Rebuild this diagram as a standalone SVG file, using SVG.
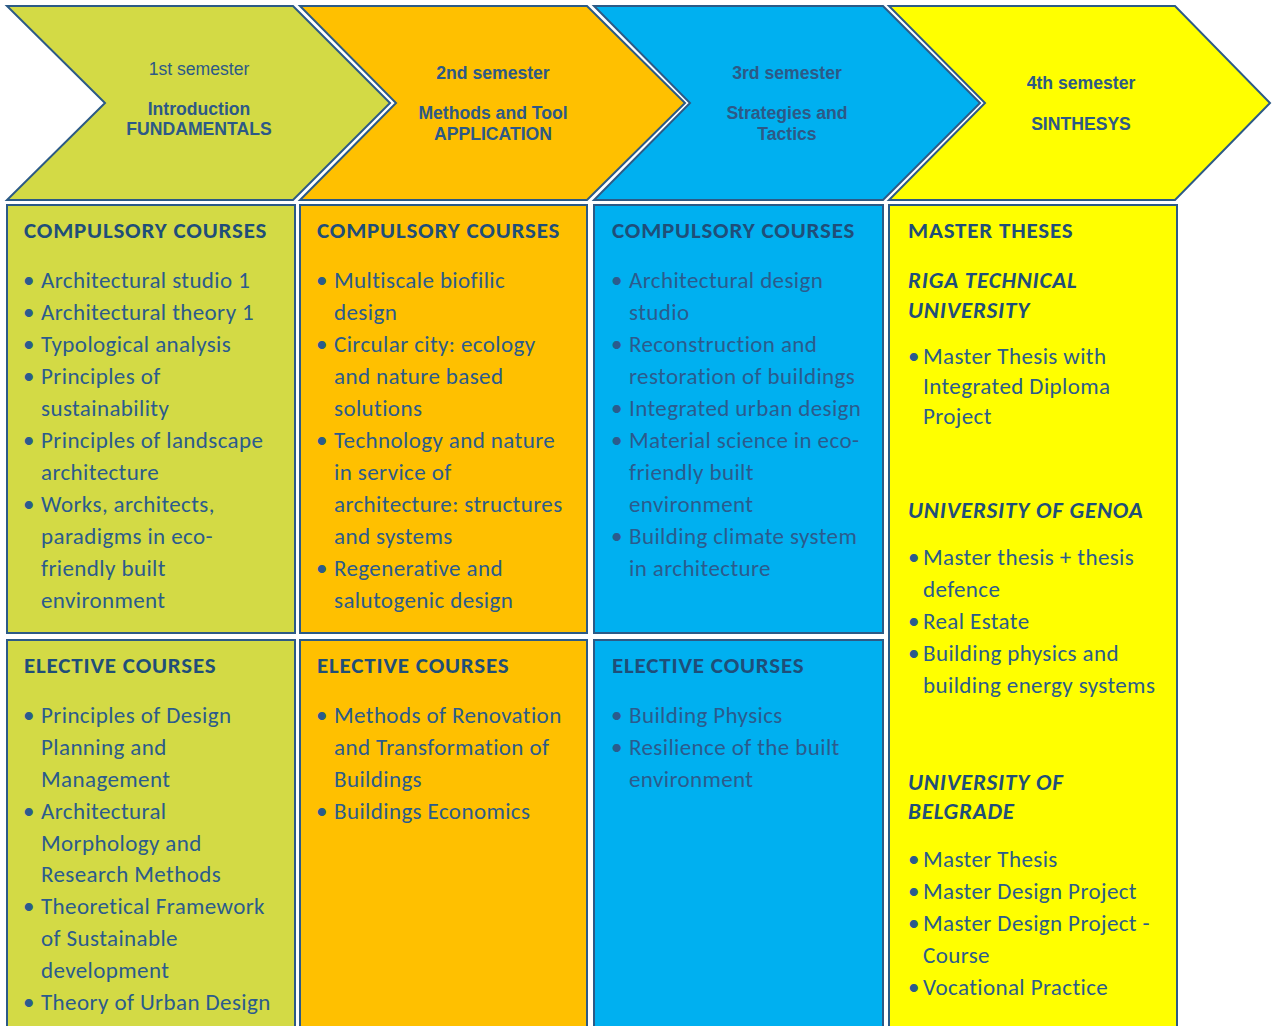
<svg xmlns="http://www.w3.org/2000/svg" width="1272" height="1026" viewBox="0 0 1272 1026">
<style>
.chev{stroke:#2c5a86;stroke-width:2;stroke-linejoin:miter}
.box{stroke:#2c5a86;stroke-width:2}
.ct{font-family:"Liberation Sans",Arial,sans-serif;font-size:17.6px;fill:#2d5987;text-anchor:middle;font-weight:bold}
.cr{font-weight:normal}
.h{font-family:"Carlito","Lato",sans-serif;font-size:23px;font-weight:bold;fill:#1f4e79;letter-spacing:0.8px}
.hi{font-style:italic}
.t{font-family:"Carlito","Lato",sans-serif;font-size:23px;fill:#2b5b8d;letter-spacing:0.4px}
.g{fill:#d3da45}.o{fill:#ffc000}.b{fill:#00b0f0}.y{fill:#ffff00}
</style>
<rect width="1272" height="1026" fill="#ffffff"/>

<g id="sem1">
<polygon class="chev g" points="7,6 293,6 390,103 293,200 7,200 105,103"/>
<text class="ct cr" x="199" y="75">1st semester</text>
<text class="ct" x="199" y="115">Introduction</text>
<text class="ct" x="199" y="135">FUNDAMENTALS</text>
</g>
<g id="sem2">
<polygon class="chev o" points="300,6 587,6 685,103 587,200 300,200 396,103"/>
<text class="ct" x="493" y="79">2nd semester</text>
<text class="ct" x="493" y="119">Methods and Tool</text>
<text class="ct" x="493" y="140">APPLICATION</text>
</g>
<g id="sem3">
<polygon class="chev b" points="594,6 883,6 980,103 883,200 594,200 690,103"/>
<text class="ct" x="787" y="79">3rd semester</text>
<text class="ct" x="787" y="119">Strategies and</text>
<text class="ct" x="787" y="140">Tactics</text>
</g>
<g id="sem4">
<polygon class="chev y" points="889,6 1175,6 1270,103 1175,200 889,200 985,103"/>
<text class="ct" x="1081" y="89">4th semester</text>
<text class="ct" x="1081" y="130">SINTHESYS</text>
</g>

<g id="comp1">
<rect class="box g" x="7" y="205" width="288" height="428"/>
<text class="h" x="24" y="238">COMPULSORY COURSES</text>
<g class="t">
<text x="23" y="288">•</text><text x="41" y="288">Architectural studio 1</text>
<text x="23" y="320">•</text><text x="41" y="320">Architectural theory 1</text>
<text x="23" y="352">•</text><text x="41" y="352">Typological analysis</text>
<text x="23" y="384">•</text><text x="41" y="384">Principles of</text>
<text x="41" y="416">sustainability</text>
<text x="23" y="448">•</text><text x="41" y="448">Principles of landscape</text>
<text x="41" y="480">architecture</text>
<text x="23" y="512">•</text><text x="41" y="512">Works, architects,</text>
<text x="41" y="544">paradigms in eco-</text>
<text x="41" y="576">friendly built</text>
<text x="41" y="608">environment</text>
</g>
</g>

<g id="elec1">
<rect class="box g" x="7" y="640" width="288" height="400"/>
<text class="h" x="24" y="673">ELECTIVE COURSES</text>
<g class="t">
<text x="23" y="723">•</text><text x="41" y="723">Principles of Design</text>
<text x="41" y="755">Planning and</text>
<text x="41" y="787">Management</text>
<text x="23" y="819">•</text><text x="41" y="819">Architectural</text>
<text x="41" y="851">Morphology and</text>
<text x="41" y="882">Research Methods</text>
<text x="23" y="914">•</text><text x="41" y="914">Theoretical Framework</text>
<text x="41" y="946">of Sustainable</text>
<text x="41" y="978">development</text>
<text x="23" y="1010">•</text><text x="41" y="1010">Theory of Urban Design</text>
</g>
</g>

<g id="comp2">
<rect class="box o" x="300" y="205" width="287" height="428"/>
<text class="h" x="317" y="238">COMPULSORY COURSES</text>
<g class="t">
<text x="316" y="288">•</text><text x="334" y="288">Multiscale biofilic</text>
<text x="334" y="320">design</text>
<text x="316" y="352">•</text><text x="334" y="352">Circular city: ecology</text>
<text x="334" y="384">and nature based</text>
<text x="334" y="416">solutions</text>
<text x="316" y="448">•</text><text x="334" y="448">Technology and nature</text>
<text x="334" y="480">in service of</text>
<text x="334" y="512">architecture: structures</text>
<text x="334" y="544">and systems</text>
<text x="316" y="576">•</text><text x="334" y="576">Regenerative and</text>
<text x="334" y="608">salutogenic design</text>
</g>
</g>

<g id="elec2">
<rect class="box o" x="300" y="640" width="287" height="400"/>
<text class="h" x="317" y="673">ELECTIVE COURSES</text>
<g class="t">
<text x="316" y="723">•</text><text x="334" y="723">Methods of Renovation</text>
<text x="334" y="755">and Transformation of</text>
<text x="334" y="787">Buildings</text>
<text x="316" y="819">•</text><text x="334" y="819">Buildings Economics</text>
</g>
</g>

<g id="comp3">
<rect class="box b" x="594" y="205" width="289" height="428"/>
<text class="h" x="612" y="238">COMPULSORY COURSES</text>
<g class="t">
<text x="611" y="288">•</text><text x="629" y="288">Architectural design</text>
<text x="629" y="320">studio</text>
<text x="611" y="352">•</text><text x="629" y="352">Reconstruction and</text>
<text x="629" y="384">restoration of buildings</text>
<text x="611" y="416">•</text><text x="629" y="416">Integrated urban design</text>
<text x="611" y="448">•</text><text x="629" y="448">Material science in eco-</text>
<text x="629" y="480">friendly built</text>
<text x="629" y="512">environment</text>
<text x="611" y="544">•</text><text x="629" y="544">Building climate system</text>
<text x="629" y="576">in architecture</text>
</g>
</g>

<g id="elec3">
<rect class="box b" x="594" y="640" width="289" height="400"/>
<text class="h" x="612" y="673">ELECTIVE COURSES</text>
<g class="t">
<text x="611" y="723">•</text><text x="629" y="723">Building Physics</text>
<text x="611" y="755">•</text><text x="629" y="755">Resilience of the built</text>
<text x="629" y="787">environment</text>
</g>
</g>

<g id="theses4">
<rect class="box y" x="889" y="205" width="288" height="835"/>
<text class="h" x="908" y="238">MASTER THESES</text>
<text class="h hi" x="908" y="288">RIGA TECHNICAL</text>
<text class="h hi" x="908" y="318">UNIVERSITY</text>
<g class="t">
<text x="908" y="364">•</text><text x="923" y="364">Master Thesis with</text>
<text x="923" y="394">Integrated Diploma</text>
<text x="923" y="424">Project</text>
</g>
<text class="h hi" x="908" y="518">UNIVERSITY OF GENOA</text>
<g class="t">
<text x="908" y="565">•</text><text x="923" y="565">Master thesis + thesis</text>
<text x="923" y="597">defence</text>
<text x="908" y="629">•</text><text x="923" y="629">Real Estate</text>
<text x="908" y="661">•</text><text x="923" y="661">Building physics and</text>
<text x="923" y="693">building energy systems</text>
</g>
<text class="h hi" x="908" y="790">UNIVERSITY OF</text>
<text class="h hi" x="908" y="819">BELGRADE</text>
<g class="t">
<text x="908" y="867">•</text><text x="923" y="867">Master Thesis</text>
<text x="908" y="899">•</text><text x="923" y="899">Master Design Project</text>
<text x="908" y="931">•</text><text x="923" y="931">Master Design Project -</text>
<text x="923" y="963">Course</text>
<text x="908" y="995">•</text><text x="923" y="995">Vocational Practice</text>
</g>
</g>
</svg>
